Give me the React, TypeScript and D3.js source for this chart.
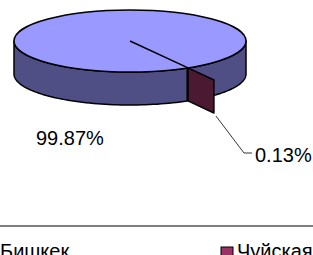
import React, { useEffect, useRef } from "react";
import * as d3 from "d3";

const regions = ["Бишкек", "Чуйская"];
const shares = [99.87, 0.13];
const labels = ["99.87%", "0.13%"];
const topColors = ["#9999ff", "#993366"];
const sideColors = ["#4f4f85", "#4c1933"];

export default function App() {
  const ref = useRef<SVGSVGElement>(null);

  useEffect(() => {
    const width = 313, height = 255;
    const cx = 130, cy = 41, rx = 116, ry = 31, depth = 33, explode = 0.45;
    const svg = d3.select(ref.current).attr("width", width).attr("height", height);
    svg.selectAll("*").remove();

    const deg = Math.PI / 180;
    const cut = 150 * deg;
    const smallSpan = (2 * Math.PI * shares[1]) / d3.sum(shares);
    const arcs = d3.pie<number>().sort(null)
      .startAngle(cut + smallSpan - 2 * Math.PI).endAngle(cut + smallSpan)(shares);

    const pt = (a: number, dy = 0): [number, number] => [cx + rx * Math.sin(a), cy - ry * Math.cos(a) + dy];

    // front side of the big slice, from right edge to left edge
    const sidePath = (a0: number, a1: number) => {
      const steps = 60;
      const top = d3.range(steps + 1).map(i => pt(a0 + (a1 - a0) * i / steps));
      const bottom = top.slice().reverse().map(([x, y]) => [x, y + depth] as [number, number]);
      return d3.line()([...top, ...bottom]) + "Z";
    };
    const g = svg.append("g").attr("stroke", "#000").attr("stroke-width", 1.5).attr("stroke-linejoin", "round");
    g.append("path").attr("d", sidePath(90 * deg, arcs[0].endAngle)).attr("fill", sideColors[0]);
    g.append("path").attr("d", sidePath(arcs[1].endAngle, 270 * deg)).attr("fill", sideColors[0]);

    // top face
    g.append("ellipse").attr("cx", cx).attr("cy", cy).attr("rx", rx).attr("ry", ry).attr("fill", topColors[0]);
    const p1 = pt(arcs[0].endAngle);
    g.append("line").attr("x1", cx).attr("y1", cy).attr("x2", p1[0]).attr("y2", p1[1]);

    // exploded small slice, its cut face
    const mid = (arcs[1].startAngle + arcs[1].endAngle) / 2;
    const ox = explode * rx * Math.sin(mid), oy = -explode * ry * Math.cos(mid);
    const p2: [number, number] = [p1[0] + ox, p1[1] + oy];
    g.append("path")
      .attr("d", d3.line()([p1, p2, [p2[0], p2[1] + depth], [p1[0], p1[1] + depth]]) + "Z")
      .attr("fill", sideColors[1]);

    // leader line
    const l0: [number, number] = [p2[0] + 2, p2[1] + depth + 3];
    svg.append("path").attr("d", d3.line()([l0, [244, 153], [252, 153]]))
      .attr("fill", "none").attr("stroke", "#000").attr("stroke-width", 0.8);

    const font = "Arial, 'Liberation Sans', sans-serif";
    svg.append("text").attr("x", 36).attr("y", 145).text(labels[0])
      .attr("font-family", font).attr("font-size", 20);
    svg.append("text").attr("x", 255).attr("y", 162).text(labels[1])
      .attr("font-family", font).attr("font-size", 20);

    // legend
    svg.append("line").attr("x1", 0).attr("x2", width).attr("y1", 226).attr("y2", 226)
      .attr("stroke", "#000").attr("stroke-width", 1.2);
    svg.append("text").attr("x", 0).attr("y", 257.5).text(regions[0])
      .attr("font-family", font).attr("font-size", 20);
    svg.append("rect").attr("x", 221).attr("y", 247).attr("width", 12).attr("height", 12)
      .attr("fill", topColors[1]).attr("stroke", "#000").attr("stroke-width", 1);
    svg.append("text").attr("x", 237).attr("y", 257.5).text(regions[1])
      .attr("font-family", font).attr("font-size", 20);
  }, []);

  return (
    <div style={{ position: "fixed", left: 0, top: 0, background: "#fff" }}>
      <svg ref={ref} style={{ display: "block" }}></svg>
    </div>
  );
}
